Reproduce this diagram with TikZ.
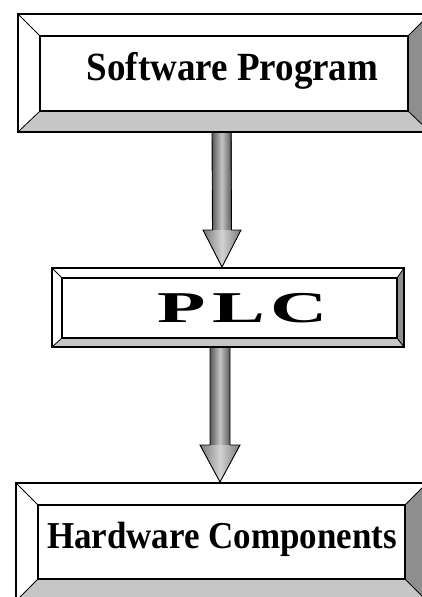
\documentclass[tikz,border=0pt]{standalone}
\usepackage{fontspec}
\setmainfont{Liberation Serif}
\usetikzlibrary{calc}
\definecolor{bevelright}{HTML}{8E8E8E}
\definecolor{bevelbottom}{HTML}{C6C6C6}
\definecolor{shaftedge}{HTML}{5A5A5A}
\definecolor{shaftmid}{HTML}{C4C4C4}
\definecolor{headedge}{HTML}{7A7A7A}
\definecolor{headmid}{HTML}{D2D2D2}
\tikzset{
  frame/.style={line width=1.4pt, draw=black},
  diag/.style={line width=0.8pt, draw=black},
  shaftfill/.style={left color=shaftedge, right color=shaftedge, middle color=shaftmid},
  headfill/.style={left color=headedge, right color=headedge, middle color=headmid},
  arrowline/.style={line width=0.9pt, draw=black, line join=miter},
  boxtext/.style={inner sep=0pt, anchor=base, text=black}
}
\newcommand{\bevelbox}[3]{%
  \fill[white] (#1-o1) -- (#1-o1 -| #1-o2) -- (#1-i1 -| #1-i2) -- (#1-i1) -- cycle;
  \fill[white] (#1-o1) -- (#1-i1) -- (#1-i1 |- #1-i2) -- (#1-o1 |- #1-o2) -- cycle;
  \fill[#3] (#1-o1 |- #1-o2) -- (#1-i1 |- #1-i2) -- (#1-i2) -- (#1-o2) -- cycle;
  \fill[#2] (#1-o1 -| #1-o2) -- (#1-o2) -- (#1-i2) -- (#1-i1 -| #1-i2) -- cycle;
  \fill[white] (#1-i1) rectangle (#1-i2);
  \draw[diag] (#1-o1) -- (#1-i1) (#1-o1 -| #1-o2) -- (#1-i1 -| #1-i2)
              (#1-o2) -- (#1-i2) (#1-o1 |- #1-o2) -- (#1-i1 |- #1-i2);
  \draw[frame] (#1-o1) rectangle (#1-o2) (#1-i1) rectangle (#1-i2);
}
\newcommand{\shaftarrow}[4]{% name top, name tip, half shaft, half head
  \fill[shaftfill] ($(#1)+(-#3,0)$) rectangle ($(#2)+(#3,-37)$);
  \fill[headfill] ($(#2)+(-#4,-37)$) -- ($(#2)+(#4,-37)$) -- (#2) -- cycle;
  \draw[arrowline] ($(#1)+(-#3,0)$) -- ($(#2)+(-#3,-37)$) -- ($(#2)+(-#4,-37)$) -- (#2)
     -- ($(#2)+(#4,-37)$) -- ($(#2)+(#3,-37)$) -- ($(#1)+(#3,0)$);
}
\begin{document}
\begin{tikzpicture}[x=1pt,y=-1pt]
\useasboundingbox (0,0) rectangle (422,597);
\clip (0,0) rectangle (422,597);
\fill[white] (0,0) rectangle (422,597);

% box coordinates
\coordinate (sw-o1) at (18,14);   \coordinate (sw-o2) at (430,132);
\coordinate (sw-i1) at (40,36);   \coordinate (sw-i2) at (408,111);
\coordinate (plc-o1) at (52,268); \coordinate (plc-o2) at (404,347);
\coordinate (plc-i1) at (62,278); \coordinate (plc-i2) at (397,338);
\coordinate (hw-o1) at (16,483);  \coordinate (hw-o2) at (427,601);
\coordinate (hw-i1) at (38,505);  \coordinate (hw-i2) at (405,579);

% arrows
\coordinate (a1-top) at (221.5,132);
\coordinate (a1-tip) at (222,267);
\coordinate (a2-top) at (220,347);
\coordinate (a2-tip) at (220,482);
\shaftarrow{a1-top}{a1-tip}{9.5}{19}
\shaftarrow{a2-top}{a2-tip}{10}{20}

\bevelbox{sw}{bevelright}{bevelbottom}
\bevelbox{plc}{bevelright}{bevelbottom}
\bevelbox{hw}{bevelright}{bevelbottom}

\node[boxtext, font=\fontsize{40}{40}\selectfont\bfseries, xscale=0.925] (t-sw) at (232.5,80) {Software Program};
\node[boxtext, font=\fontsize{44}{44}\selectfont\bfseries, xscale=1.8] (t-plc) at (242.5,322) {P\kern4ptL\kern3ptC};
\node[boxtext, font=\fontsize{38}{38}\selectfont\bfseries, xscale=0.92] (t-hw) at (222,548) {Hardware Components};
\end{tikzpicture}
\end{document}
